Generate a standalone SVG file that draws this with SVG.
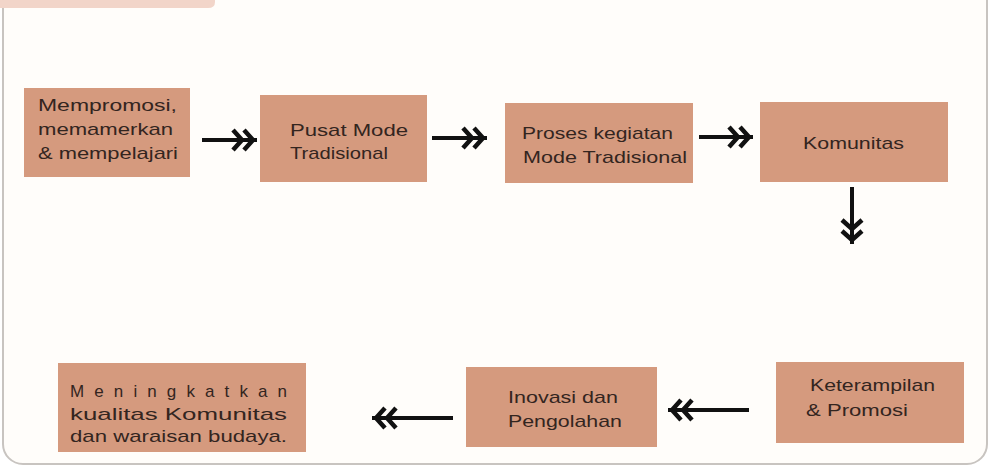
<svg xmlns="http://www.w3.org/2000/svg" width="991" height="470" viewBox="0 0 991 470">
  <style>
    .box { fill: #d59a7e; }
    .lbl { font-family: "Liberation Sans", "DejaVu Sans", sans-serif; font-size: 17px; fill: #33251f; }
    .arr { stroke: #111; stroke-width: 4; fill: none; }
  </style>
  <defs>
    <marker id="dbl" viewBox="-28 -14 30 28" markerUnits="userSpaceOnUse" markerWidth="30" markerHeight="28" refX="0" refY="0" orient="auto">
      <path d="M-24,-10 L-15,0 L-24,10 M-13,-10 L-4,0 L-13,10" stroke="#111" stroke-width="4.5" fill="none" stroke-linejoin="miter"/>
    </marker>
  </defs>
  <rect x="0" y="0" width="991" height="470" fill="#ffffff"/>
  <rect x="3" y="-30" width="984" height="494" rx="20" ry="20" fill="#fffdfa" stroke="#c8c4c0" stroke-width="2"/>
  <path d="M0,0 H215 V2 Q215,8 208,8 H0 Z" fill="#f2d5c9"/>

  <g id="node-mempromosi">
    <rect class="box" x="24" y="88" width="166" height="89"/>
    <text class="lbl" x="38" y="111" textLength="139" lengthAdjust="spacingAndGlyphs">Mempromosi,</text>
    <text class="lbl" x="38" y="135" textLength="135" lengthAdjust="spacingAndGlyphs">memamerkan</text>
    <text class="lbl" x="38" y="159" textLength="140" lengthAdjust="spacingAndGlyphs">&amp; mempelajari</text>
  </g>
  <g id="node-pusat">
    <rect class="box" x="260" y="95" width="167" height="87"/>
    <text class="lbl" x="290" y="136" textLength="118" lengthAdjust="spacingAndGlyphs">Pusat Mode</text>
    <text class="lbl" x="290" y="159" textLength="98" lengthAdjust="spacingAndGlyphs">Tradisional</text>
  </g>
  <g id="node-proses">
    <rect class="box" x="505" y="103" width="188" height="80"/>
    <text class="lbl" x="522" y="139" textLength="151" lengthAdjust="spacingAndGlyphs">Proses kegiatan</text>
    <text class="lbl" x="523" y="163" textLength="164" lengthAdjust="spacingAndGlyphs">Mode Tradisional</text>
  </g>
  <g id="node-komunitas">
    <rect class="box" x="760" y="102" width="188" height="80"/>
    <text class="lbl" x="803" y="149" textLength="101" lengthAdjust="spacingAndGlyphs">Komunitas</text>
  </g>
  <g id="node-keterampilan">
    <rect class="box" x="776" y="362" width="188" height="81"/>
    <text class="lbl" x="810" y="391" textLength="125" lengthAdjust="spacingAndGlyphs">Keterampilan</text>
    <text class="lbl" x="806" y="416" textLength="102" lengthAdjust="spacingAndGlyphs">&amp; Promosi</text>
  </g>
  <g id="node-inovasi">
    <rect class="box" x="466" y="367" width="191" height="80"/>
    <text class="lbl" x="508" y="403" textLength="110" lengthAdjust="spacingAndGlyphs">Inovasi dan</text>
    <text class="lbl" x="508" y="427" textLength="114" lengthAdjust="spacingAndGlyphs">Pengolahan</text>
  </g>
  <g id="node-meningkatkan">
    <rect class="box" x="58" y="363" width="248" height="89"/>
    <text class="lbl" x="70" y="397" textLength="217" lengthAdjust="spacing">Meningkatkan</text>
    <text class="lbl" x="70" y="420" textLength="217" lengthAdjust="spacingAndGlyphs">kualitas  Komunitas</text>
    <text class="lbl" x="70" y="442" textLength="217" lengthAdjust="spacingAndGlyphs">dan waraisan budaya.</text>
  </g>

  <g id="connectors">
    <line class="arr" x1="202" y1="140" x2="257" y2="140" marker-end="url(#dbl)"/>
    <line class="arr" x1="432" y1="138" x2="487" y2="138" marker-end="url(#dbl)"/>
    <line class="arr" x1="699" y1="137" x2="753" y2="137" marker-end="url(#dbl)"/>
    <line class="arr" x1="852" y1="187" x2="852" y2="244" marker-end="url(#dbl)"/>
    <line class="arr" x1="749" y1="410" x2="668" y2="410" marker-end="url(#dbl)"/>
    <line class="arr" x1="453" y1="418" x2="372" y2="418" marker-end="url(#dbl)"/>
  </g>
</svg>
